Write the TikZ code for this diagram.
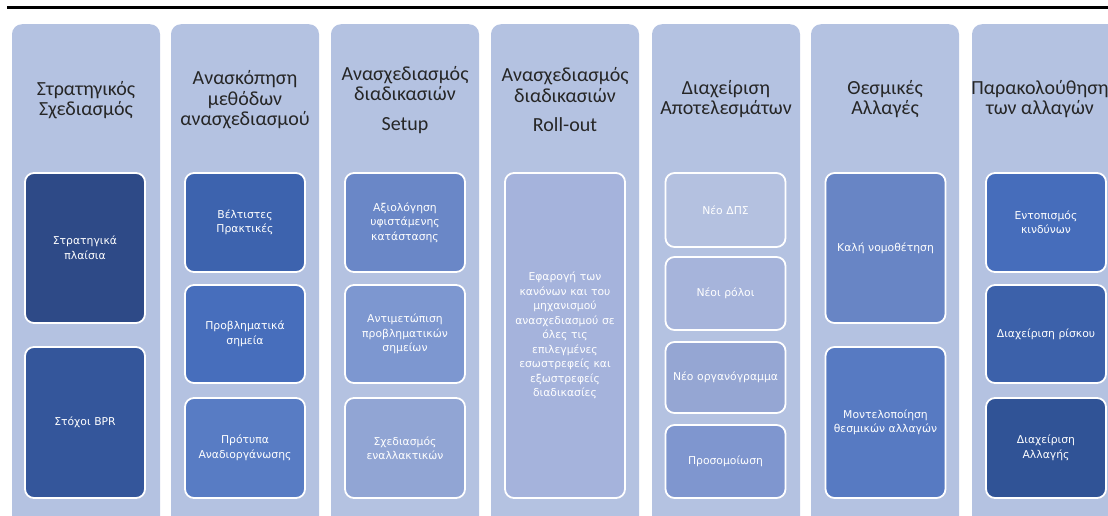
\documentclass[tikz,border=0pt]{standalone}
\usepackage{fontspec}
\setmainfont{Carlito}
\newfontfamily\cellfont{DejaVu Sans}
\usepackage{xcolor}
\usepackage{tikz}
\usetikzlibrary{positioning}

\definecolor{laneblue}{HTML}{B4C2E1}
\definecolor{headgray}{HTML}{262626}
\definecolor{cA}{HTML}{2E4A87}
\definecolor{cB}{HTML}{34569B}
\definecolor{cC}{HTML}{3D63AE}
\definecolor{cD}{HTML}{476EBC}
\definecolor{cE}{HTML}{587CC4}
\definecolor{cF}{HTML}{6A87C7}
\definecolor{cG}{HTML}{7D97D0}
\definecolor{cH}{HTML}{91A5D4}
\definecolor{cI}{HTML}{A5B3DC}
\definecolor{cJ}{HTML}{B4C1E0}
\definecolor{cK}{HTML}{A6B4DB}
\definecolor{cL}{HTML}{95A6D3}
\definecolor{cM}{HTML}{7F96CF}
\definecolor{cN}{HTML}{6885C5}
\definecolor{cO}{HTML}{577AC2}
\definecolor{cP}{HTML}{466DBB}
\definecolor{cQ}{HTML}{3C61AA}
\definecolor{cR}{HTML}{305396}

\tikzset{
  lane/.style={shape=rectangle, rounded corners=10pt, fill=laneblue, anchor=north,
    minimum width=148pt, minimum height=520pt, inner sep=0pt},
  head/.style={align=center, text=headgray, inner sep=0pt,
    font={\fontsize{20}{20.5}\selectfont}},
  cell/.style={shape=rectangle, rounded corners=9pt, draw=white, line width=1.8pt,
    minimum width=120pt, text width=116pt, align=center, text=white, inner sep=0pt,
    font={\cellfont\fontsize{10.8}{14.5}\selectfont}},
}

\begin{document}
\begin{tikzpicture}[x=1pt, y=-1pt]
	% Frame and top rule:
	\useasboundingbox (0, 0) rectangle (1108, 515);
	\clip (0, 0) rectangle (1108, 515);
	\coordinate (ruleL) at (7, 7.5);
	\coordinate (ruleR) at (1110, 7.5);
	\draw[line width=3pt] (ruleL) -- (ruleR);
	% Lanes:
	\node[lane](lane1) at (86, 24){};
	\node[lane](lane2) at (245, 24){};
	\node[lane](lane3) at (405, 24){};
	\node[lane](lane4) at (565, 24){};
	\node[lane](lane5) at (726, 24){};
	\node[lane](lane6) at (885, 24){};
	\node[lane](lane7) at (1046, 24){};
	% Lane headings:
	\node[head](head1) at (86, 100){Στρατηγικός\\Σχεδιασμός};
	\node[head](head2) at (245, 100){Ανασκόπηση\\μεθόδων\\ανασχεδιασμού};
	\node[head](head3) at (405, 100){Ανασχεδιασμός\\διαδικασιών\\[9pt]Setup};
	\node[head](head4) at (565, 100){Ανασχεδιασμός\\διαδικασιών\\[9pt]Roll-out};
	\node[head](head5) at (726, 99){Διαχείριση\\Αποτελεσμάτων};
	\node[head](head6) at (885, 99){Θεσμικές\\Αλλαγές};
	\node[head](head7) at (1040, 99){Παρακολούθηση\\των αλλαγών};
	% Lane 1:
	\node[cell, fill=cA, minimum height=150pt](c1a) at (85, 248){Στρατηγικά\\πλαίσια};
	\node[cell, fill=cB, minimum height=151pt](c1b) at (85, 422.5){Στόχοι BPR};
	% Lane 2:
	\node[cell, fill=cC, minimum height=99pt](c2a) at (245, 222.5){Βέλτιστες\\Πρακτικές};
	\node[cell, fill=cD, minimum height=98pt](c2b) at (245, 334){Προβληματικά\\σημεία};
	\node[cell, fill=cE, minimum height=100pt](c2c) at (245, 448){Πρότυπα\\Αναδιοργάνωσης};
	% Lane 3:
	\node[cell, fill=cF, minimum height=99pt](c3a) at (405, 222.5){Αξιολόγηση\\υφιστάμενης\\κατάστασης};
	\node[cell, fill=cG, minimum height=98pt](c3b) at (405, 334){Αντιμετώπιση\\προβληματικών\\σημείων};
	\node[cell, fill=cH, minimum height=100pt](c3c) at (405, 448){Σχεδιασμός\\εναλλακτικών};
	% Lane 4:
	\node[cell, fill=cI, minimum height=325pt](c4a) at (565, 335.5){Εφαρογή των\\κανόνων και του\\μηχανισμού\\ανασχεδιασμού σε\\όλες τις\\επιλεγμένες\\εσωστρεφείς και\\εξωστρεφείς\\διαδικασίες};
	% Lane 5:
	\node[cell, fill=cJ, minimum height=74pt](c5a) at (725.5, 210){Νέο ΔΠΣ};
	\node[cell, fill=cK, minimum height=73pt](c5b) at (725.5, 293.5){Νέοι ρόλοι};
	\node[cell, fill=cL, minimum height=71pt](c5c) at (725.5, 377.5){Νέο οργανόγραμμα};
	\node[cell, fill=cM, minimum height=73pt](c5d) at (725.5, 461.5){Προσομοίωση};
	% Lane 6:
	\node[cell, fill=cN, minimum height=150pt](c6a) at (885.5, 248){Καλή νομοθέτηση};
	\node[cell, fill=cO, minimum height=151pt](c6b) at (885.5, 422.5){Μοντελοποίηση\\θεσμικών αλλαγών};
	% Lane 7:
	\node[cell, fill=cP, minimum height=99pt](c7a) at (1046, 222.5){Εντοπισμός\\κινδύνων};
	\node[cell, fill=cQ, minimum height=98pt](c7b) at (1046, 334){Διαχείριση ρίσκου};
	\node[cell, fill=cR, minimum height=100pt](c7c) at (1046, 448){Διαχείριση\\Αλλαγής};
\end{tikzpicture}
\end{document}
